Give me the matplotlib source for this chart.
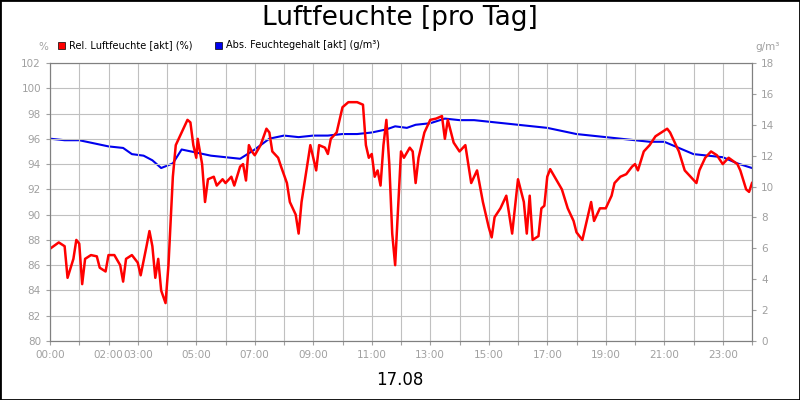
import matplotlib
matplotlib.use("Agg")
import matplotlib.pyplot as plt
from matplotlib.patches import Rectangle

rel_t = [0,0.3,0.5,0.6,0.8,0.9,1.0,1.1,1.2,1.4,1.6,1.7,1.9,2.0,2.2,2.4,2.5,2.6,2.8,3.0,3.1,3.3,3.4,3.5,3.6,3.7,3.8,3.95,4.05,4.2,4.3,4.5,4.7,4.8,4.9,5.0,5.05,5.2,5.3,5.4,5.6,5.7,5.9,6.0,6.2,6.3,6.5,6.6,6.7,6.8,6.9,7.0,7.2,7.4,7.5,7.6,7.8,7.9,8.1,8.2,8.4,8.5,8.6,8.8,8.9,9.0,9.1,9.2,9.4,9.5,9.6,9.8,9.9,10.0,10.2,10.5,10.7,10.8,10.9,11.0,11.1,11.2,11.3,11.4,11.5,11.6,11.7,11.8,11.9,12.0,12.1,12.3,12.4,12.5,12.6,12.8,13.0,13.2,13.4,13.5,13.6,13.8,14.0,14.2,14.4,14.6,14.8,15.0,15.1,15.2,15.4,15.6,15.8,16.0,16.2,16.3,16.4,16.5,16.7,16.8,16.9,17.0,17.1,17.3,17.5,17.7,17.9,18.0,18.2,18.4,18.5,18.6,18.8,19.0,19.2,19.3,19.5,19.7,19.9,20.0,20.1,20.3,20.5,20.7,20.9,21.1,21.2,21.5,21.7,21.9,22.1,22.2,22.4,22.6,22.8,23.0,23.2,23.5,23.6,23.8,23.9,24.0]
rel_v = [87.3,87.8,87.5,85,86.5,88,87.7,84.5,86.5,86.8,86.7,85.8,85.5,86.8,86.8,86,84.7,86.5,86.8,86.2,85.2,87.5,88.7,87.5,85,86.5,84,83,86,93,95.5,96.5,97.5,97.3,95.5,94.5,96,94,91,92.8,93,92.3,92.8,92.5,93,92.3,93.8,94,92.7,95.5,95,94.7,95.5,96.8,96.5,95,94.5,93.8,92.5,91,90,88.5,91,94,95.5,94.5,93.5,95.5,95.3,94.8,96,96.5,97.5,98.5,98.9,98.9,98.7,95.5,94.5,94.8,93,93.5,92.3,95.5,97.5,94,88.5,86,90.5,95,94.5,95.3,95,92.5,94.5,96.5,97.5,97.6,97.8,96,97.5,95.7,95,95.5,92.5,93.5,91,89,88.2,89.8,90.5,91.5,88.5,92.8,91,88.5,91.5,88,88.3,90.5,90.7,93,93.6,92.8,92,90.5,89.5,88.6,88,90,91,89.5,90.5,90.5,91.5,92.5,93,93.2,93.8,94,93.5,95,95.5,96.2,96.5,96.8,96.5,95,93.5,93.0,92.5,93.5,94.5,95,94.7,94,94.5,94,93.5,92,91.8,92.5]

abs_t = [0,0.5,1.0,1.5,2.0,2.5,2.8,3.2,3.5,3.8,4.2,4.5,5.0,5.5,6.0,6.5,7.0,7.5,8.0,8.5,9.0,9.5,10.0,10.5,11.0,11.5,11.8,12.2,12.5,13.0,13.5,14.0,14.5,15.0,15.5,16.0,16.5,17.0,17.5,18.0,18.5,19.0,19.5,20.0,20.5,21.0,21.5,22.0,22.5,23.0,23.5,24.0]
abs_v = [13.1,13.0,13.0,12.8,12.6,12.5,12.1,12.0,11.7,11.2,11.5,12.4,12.2,12.0,11.9,11.8,12.4,13.1,13.3,13.2,13.3,13.3,13.4,13.4,13.5,13.7,13.9,13.8,14.0,14.1,14.4,14.3,14.3,14.2,14.1,14.0,13.9,13.8,13.6,13.4,13.3,13.2,13.1,13.0,12.9,12.9,12.5,12.1,12.0,11.9,11.5,11.2]

hour_labels = ["00:00","","02:00","03:00","","05:00","","07:00","","09:00","","11:00","","13:00","","15:00","","17:00","","19:00","","21:00","","23:00",""]

fig = plt.figure(figsize=(8,4), dpi=100)
fig.patches.append(Rectangle((0,0),1,1,transform=fig.transFigure,fill=False,edgecolor='black',lw=2))
ax = fig.add_axes([50/800, 1-341/400, 702/800, 278/400])
ax2 = ax.twinx()
ax.set_xlim(0,24); ax.set_ylim(80,102); ax2.set_ylim(0,18)
ax.set_xticks(range(25)); ax.set_xticklabels(hour_labels)
ax.set_yticks(range(80,103,2)); ax2.set_yticks(range(0,19,2))
ax.grid(True, color='#c0c0c0', lw=0.8)
for a in (ax, ax2):
    a.tick_params(colors='#a0a0a0', labelsize=7.5, length=3)
    for s in a.spines.values(): s.set_color('#808080')
ax2.plot(abs_t, abs_v, color='#0000ee', lw=1.5)
ax.plot(rel_t, rel_v, color='#ff0000', lw=1.8)
ax.set_zorder(ax2.get_zorder()+1); ax.patch.set_visible(False)
fig.text(0.5, 0.955, "Luftfeuchte [pro Tag]", ha='center', va='center', fontsize=19)
fig.text(0.5, 0.05, "17.08", ha='center', va='center', fontsize=12)
fig.text(43/800, 1-47/400, "%", ha='center', va='center', fontsize=7.5, color='#a0a0a0')
fig.text(768/800, 1-47/400, "g/m³", ha='center', va='center', fontsize=7.5, color='#a0a0a0')
for x, c, t in [(58,'#ff0000',"Rel. Luftfeuchte [akt] (%)"),(215,'#0000ee',"Abs. Feuchtegehalt [akt] (g/m³)")]:
    fig.patches.append(Rectangle((x/800, 1-49/400), 7/800, 7/400, transform=fig.transFigure, facecolor=c, edgecolor='black', lw=0.5))
    fig.text((x+11)/800, 1-45.5/400, t, va='center', fontsize=7)
fig.savefig("out.png", dpi=100)
